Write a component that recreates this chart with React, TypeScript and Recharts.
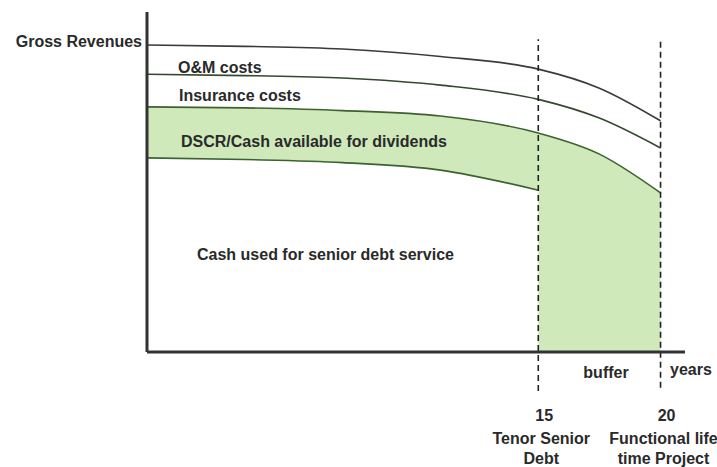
import React from 'react';
import { ComposedChart, Area, Line, XAxis, YAxis, ReferenceLine } from 'recharts';

// values (y: 0 = x axis, 100 = top of the y axis)
const years = [-1, 3, 7, 11, 15, 17.5, 20];
const grossRevenues = [90.3, 89.9, 89.1, 86.9, 83.2, 77.6, 68.0];
const omCosts = [81.7, 81.3, 80.6, 78.5, 74.3, 68.8, 60.0];
const insuranceCosts = [72.1, 71.8, 71.0, 69.4, 64.4, 58.2, 46.8];
const debtService = [57.1, 56.6, 55.7, 53.5, 47.6, null, null];

const tenorYear = 15;
const lifetimeYear = 20;
const milestoneTicks = [tenorYear, lifetimeYear];
const milestoneLabels: Record<number, string[]> = {
  15: ['Tenor Senior', 'Debt'],
  20: ['Functional life', 'time Project'],
};

const data = years.map((year, i) => ({
  year,
  gross: grossRevenues[i],
  om: omCosts[i],
  ins: insuranceCosts[i],
  debt: debtService[i],
  buffer: year >= tenorYear ? insuranceCosts[i] : null,
}));

const FONT = '"Liberation Sans", Arial, Helvetica, sans-serif';
const TXT = '#2a2a2a';
const GREEN_FILL = '#cfe9bb';
const GREEN_LINE = '#3d6130';

const txt = { fontFamily: FONT, fontWeight: 700, fontSize: 16, fill: TXT };

// tick under the axis: number + two lines of text
const MilestoneTick = (props: any) => {
  const { x, y, payload } = props;
  const lines = milestoneLabels[payload.value] || [];
  return (
    <g>
      <text x={x + 6} y={y + 69} textAnchor="middle" style={txt}>{payload.value}</text>
      <text x={x + 3} y={y + 92} textAnchor="middle" style={txt}>{lines[0]}</text>
      <text x={x + 3} y={y + 112} textAnchor="middle" style={txt}>{lines[1]}</text>
    </g>
  );
};

export default function App() {
  return (
    <div style={{ position: 'absolute', left: 0, top: 0, width: 717, height: 467, background: '#fff' }}>
      <ComposedChart
        width={717}
        height={467}
        data={data}
        margin={{ top: 12, right: 32, bottom: 0, left: 0 }}
      >
        <XAxis
          dataKey="year"
          type="number"
          domain={[-1, 21]}
          ticks={milestoneTicks}
          height={115}
          tickSize={0}
          tickMargin={0}
          tickLine={false}
          axisLine={{ stroke: '#333', strokeWidth: 3 }}
          tick={<MilestoneTick />}
          interval={0}
        />
        <YAxis
          type="number"
          domain={[0, 100]}
          width={147}
          tick={false}
          tickLine={false}
          axisLine={{ stroke: '#333', strokeWidth: 3 }}
        />

        {/* cash available for dividends until tenor */}
        <Area
          type="monotone"
          dataKey={(d: any) => (d.debt == null ? null : [d.debt, d.ins])}
          stroke="none"
          fill={GREEN_FILL}
          fillOpacity={1}
          isAnimationActive={false}
        />
        {/* buffer after tenor */}
        <Area
          type="monotone"
          dataKey="buffer"
          stroke="none"
          fill={GREEN_FILL}
          fillOpacity={1}
          isAnimationActive={false}
        />

        <Line type="monotone" dataKey="gross" stroke="#3a3a3a" strokeWidth={1.6} dot={false} isAnimationActive={false} />
        <Line type="monotone" dataKey="om" stroke="#34482f" strokeWidth={1.6} dot={false} isAnimationActive={false} />
        <Line type="monotone" dataKey="ins" stroke={GREEN_LINE} strokeWidth={1.6} dot={false} isAnimationActive={false} />
        <Line type="monotone" dataKey="debt" stroke={GREEN_LINE} strokeWidth={1.6} dot={false} isAnimationActive={false} />

        <ReferenceLine
          segment={[{ x: tenorYear, y: -11.5 }, { x: tenorYear, y: 92 }]}
          stroke="#222"
          strokeWidth={1.6}
          strokeDasharray="6 4"
          ifOverflow="visible"
        />
        <ReferenceLine
          segment={[{ x: lifetimeYear, y: -10.5 }, { x: lifetimeYear, y: 92 }]}
          stroke="#222"
          strokeWidth={1.6}
          strokeDasharray="6 4"
          ifOverflow="visible"
        />
      </ComposedChart>

      {/* annotation text on top of the chart */}
      <svg width={717} height={467} style={{ position: 'absolute', left: 0, top: 0, pointerEvents: 'none' }}>
        <text x={142} y={47} textAnchor="end" style={txt}>Gross Revenues</text>
        <text x={178} y={73} style={txt}>O&amp;M costs</text>
        <text x={179} y={101} style={txt}>Insurance costs</text>
        <text x={181} y={147} style={txt}>DSCR/Cash available for dividends</text>
        <text x={197} y={260} style={txt}>Cash used for senior debt service</text>
        <text x={606} y={378} textAnchor="middle" style={txt}>buffer</text>
        <text x={670} y={375} style={txt}>years</text>
      </svg>
    </div>
  );
}
